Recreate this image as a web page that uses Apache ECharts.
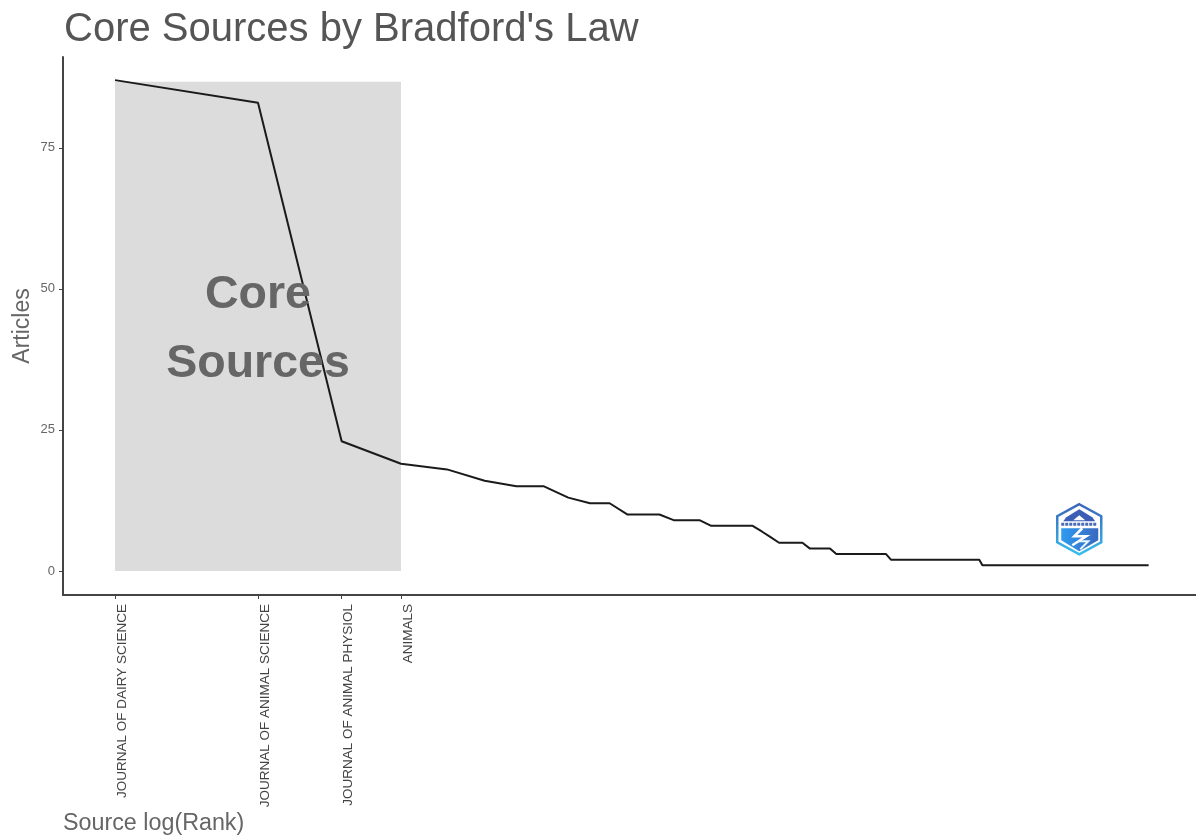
<!DOCTYPE html>
<html><head><meta charset="utf-8">
<style>html,body{margin:0;padding:0;background:#fff}#c{width:1196px;height:836px}</style>
<script src="https://cdn.jsdelivr.net/npm/echarts@6/dist/echarts.min.js"></script>
</head><body><div id="c"></div>
<script>
const articles = [87,83,23,19,18,16,15,15,13,12,
  12,10,10,10,9,9,9,8,8,8,
  8,8,7,6,5,5,5,5,4,4,
  4,4,3,3,3,3,3,3,3,3,
  3,3,2,2,2,2,2,2,2,2,
  2,2,2,2,2,2,2,2,2,2,
  2,2,2,2,2,2,1,1,1,1,
  1,1,1,1,1,1,1,1,1,1,
  1,1,1,1,1,1,1,1,1,1,
  1,1,1,1,1,1,1,1,1,1,
  1,1,1,1,1,1,1,1,1,1,
  1,1,1,1,1,1,1,1,1,1,
  1,1,1,1,1,1,1,1,1,1,
  1,1,1,1,1,1,1,1,1,1,
  1,1,1,1,1,1,1,1,1,1];
const coreRanks = [1,2,3,4];
const coreNames = ['JOURNAL OF DAIRY SCIENCE','JOURNAL OF ANIMAL SCIENCE','JOURNAL OF ANIMAL PHYSIOL','ANIMALS'];
const yTicks = [0,25,50,75];
const coreTop = 86.7;
const coreLabelLines = [['Core',2,48.8],['Sources',2,36.7]];

const lg = r => Math.log10(r);
const points = articles.map((v,i)=>[lg(i+1),v]);
const tickVals = coreRanks.map(lg);
const nameAt = v => { const i = tickVals.findIndex(t=>Math.abs(t-v)<1e-6); return i<0?'':coreNames[i]; };

const chart = echarts.init(document.getElementById('c'),null,{renderer:'canvas'});
chart.setOption({
  animation:false,
  backgroundColor:'#fff',
  textStyle:{fontFamily:'Liberation Sans'},
  title:[
    {text:"Core Sources by Bradford's Law",left:59,top:5,textStyle:{fontSize:40,fontWeight:'normal',color:'#555',fontFamily:'Liberation Sans'}},
    {text:'Source log(Rank)',left:58,top:807,textStyle:{fontSize:23.3,fontWeight:'normal',color:'#666',fontFamily:'Liberation Sans'}}
  ],
  grid:{left:63,right:0,top:57,bottom:241,outerBoundsMode:'none'},
  xAxis:{type:'value',min:-0.1095,max:2.2758,splitLine:{show:false},
    axisLine:{show:true,onZero:false,lineStyle:{color:'#444',width:2}},
    axisTick:{show:true,customValues:tickVals,length:4,lineStyle:{color:'#444',width:1}},
    axisLabel:{show:true,customValues:tickVals,rotate:90,margin:9,align:'right',verticalAlign:'top',fontSize:13.5,color:'#444',
      formatter:v=>nameAt(v)}
  },
  yAxis:{type:'value',min:-4.26,max:91.1,name:'Articles',nameLocation:'middle',nameGap:29,nameMoveOverlap:false,
    nameTextStyle:{fontSize:23,color:'#666'},splitLine:{show:false},
    axisLine:{show:true,onZero:false,lineStyle:{color:'#444',width:2}},
    axisTick:{show:true,customValues:yTicks,length:4,lineStyle:{color:'#444',width:1}},
    axisLabel:{customValues:yTicks,fontSize:13,margin:8,color:'#666'}
  },
  series:[
    {type:'line',data:points,showSymbol:false,symbol:'none',lineStyle:{color:'#1a1a1a',width:2},z:3,
      markArea:{silent:true,z:1,itemStyle:{color:'#dcdcdc'},
        data:[[{xAxis:lg(coreRanks[0]),yAxis:0},{xAxis:lg(coreRanks[3]),yAxis:coreTop}]]}},
    {type:'scatter',symbolSize:0,z:4,silent:true,itemStyle:{opacity:1},data:coreLabelLines.map(d=>[lg(d[1]),d[2]]),
      label:{show:true,position:'inside',fontSize:46.5,fontWeight:'bold',color:'#666',opacity:1,
        formatter:p=>coreLabelLines[p.dataIndex][0]}}
  ],
  graphic:[{type:'group',left:1056,top:503,silent:true,children:[
    {type:'polygon',shape:{points:[[23,1],[45,13],[45,39],[23,51],[1,39],[1,13]]},
      style:{fill:'#fff',lineWidth:2.5,stroke:new echarts.graphic.LinearGradient(0,0,0,1,[{offset:0,color:'#3a62b8'},{offset:1,color:'#35c0ee'}])}},
    {type:'polygon',shape:{points:[[23,6],[36,14],[39,18],[7,18],[10,14]]},style:{fill:'#3a5fb5'}},
    {type:'polygon',shape:{points:[[23,12],[29,17],[17,17]]},style:{fill:'#fff'}},
    {type:'line',shape:{x1:5,y1:21,x2:41,y2:21},style:{stroke:'#4a6cb5',lineWidth:3,lineDash:[3,1]}},
    {type:'polygon',shape:{points:[[5,25],[42,25],[42,37],[23,48],[5,37]]},
      style:{fill:new echarts.graphic.LinearGradient(0,0,1,0,[{offset:0,color:'#2d9cf0'},{offset:1,color:'#3a68c0'}])}},
    {type:'polyline',shape:{points:[[26,25],[18,33],[30,33],[16,42]]},style:{stroke:'#fff',lineWidth:2.5,fill:'none'}},
    {type:'polyline',shape:{points:[[22,38],[32,38],[24,46]]},style:{stroke:'#e8f6fd',lineWidth:2,fill:'none'}}
  ]}]
});
</script></body></html>
